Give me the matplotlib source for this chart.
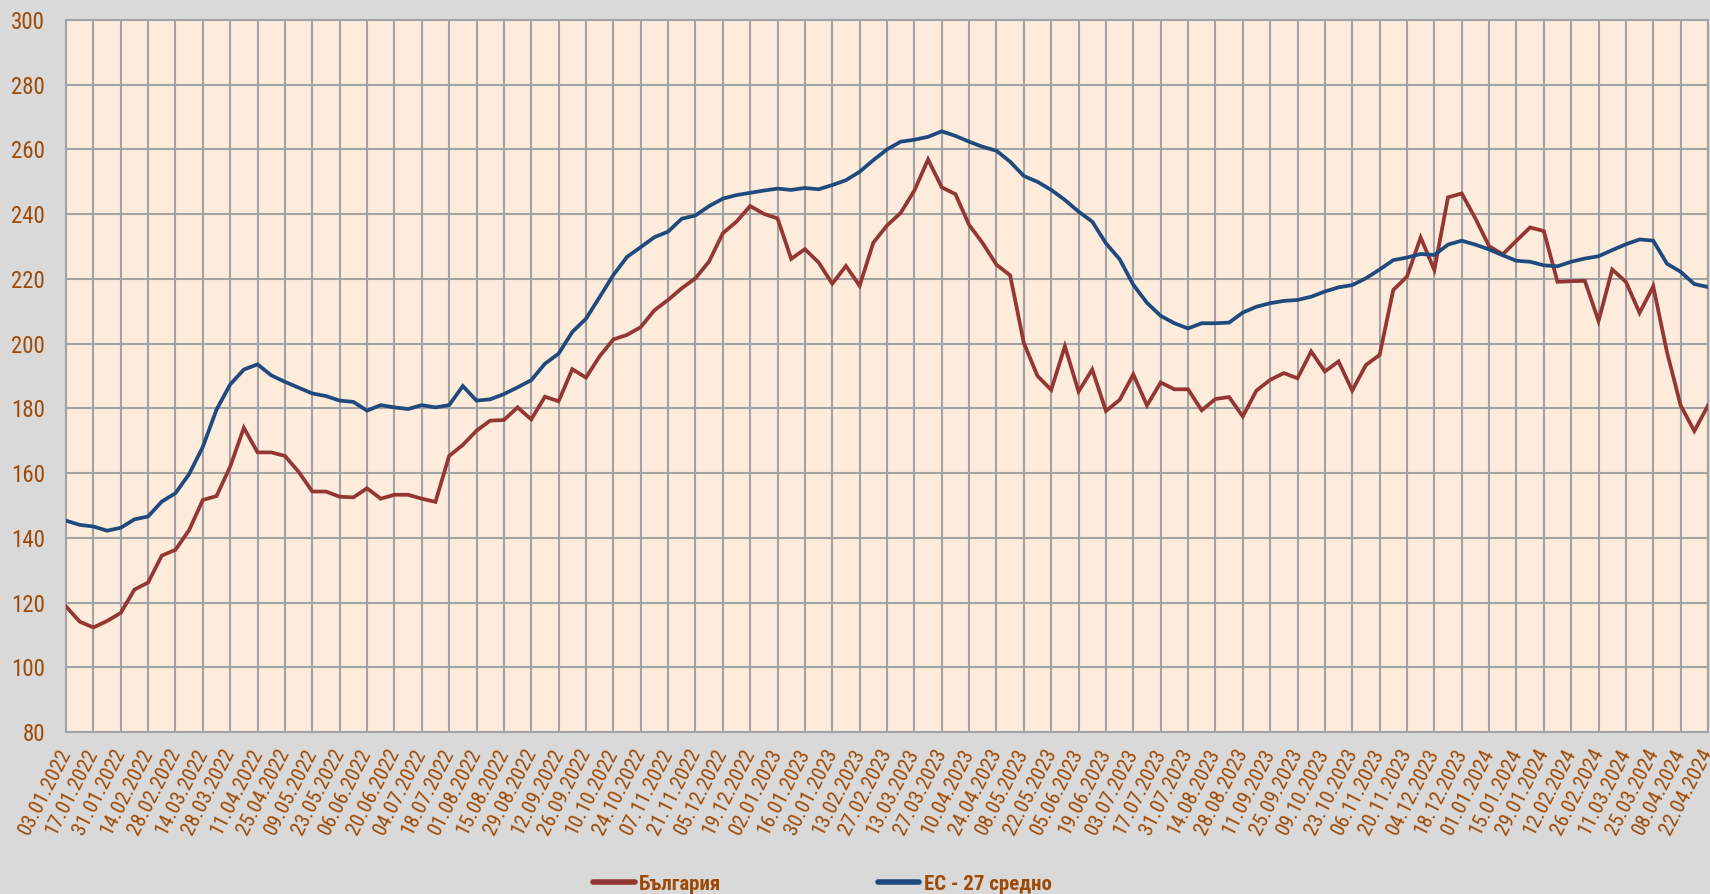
import matplotlib
matplotlib.use("Agg")
import matplotlib.pyplot as plt
from matplotlib import font_manager
import pandas as pd

# ==========================================================
# Данни (седмични, 03.01.2022 - 22.04.2024)
# ==========================================================
start_date = "2022-01-03"
n_weeks = 121

bulgaria = [
    118.8, 114.1, 112.3, 114.3, 116.8, 124.0, 126.2, 134.5, 136.3, 142.4,
    151.7, 152.9, 162.0, 174.0, 166.4, 166.4, 165.3, 160.4, 154.3, 154.3,
    152.7, 152.5, 155.3, 152.1, 153.3, 153.3, 152.1, 151.1, 165.3, 168.7,
    173.1, 176.2, 176.4, 180.3, 176.6, 183.6, 182.2, 192.1, 189.5, 196.1,
    201.3, 202.7, 205.1, 210.3, 213.5, 217.1, 220.2, 225.4, 234.1, 237.7,
    242.5, 240.1, 238.7, 226.2, 229.2, 225.1, 218.5, 224.0, 217.9, 231.2,
    236.5, 240.4, 247.3, 256.9, 248.3, 246.2, 236.7, 231.0, 224.4, 221.1,
    200.2, 190.0, 185.7, 199.2, 185.2, 192.0, 179.2, 182.6, 190.5, 180.9,
    188.0, 185.9, 185.9, 179.4, 182.9, 183.5, 177.5, 185.5, 188.8, 190.9,
    189.3, 197.6, 191.4, 194.5, 185.5, 193.4, 196.5, 216.6, 220.7, 232.8,
    222.8, 245.2, 246.4, 238.7, 230.1, 227.6, 231.8, 235.9, 234.8, 219.1,
    219.3, 219.4, 207.0, 222.9, 219.1, 209.5, 217.7, 197.4, 180.9, 173.0,
    180.9,
]

eu27 = [
    145.3, 144.0, 143.5, 142.2, 143.1, 145.7, 146.6, 151.2, 153.8, 159.7,
    168.1, 179.6, 187.4, 192.0, 193.6, 190.2, 188.2, 186.4, 184.6, 183.8,
    182.4, 182.0, 179.3, 181.0, 180.3, 179.8, 181.0, 180.3, 181.0, 186.9,
    182.4, 182.8, 184.4, 186.5, 188.7, 193.8, 196.9, 203.6, 207.7, 214.4,
    221.2, 226.8, 229.8, 232.9, 234.6, 238.6, 239.6, 242.5, 244.8, 245.9,
    246.6, 247.3, 247.9, 247.5, 248.1, 247.7, 249.0, 250.5, 253.1, 256.7,
    260.0, 262.4, 263.0, 263.9, 265.6, 264.2, 262.4, 260.8, 259.6, 256.2,
    251.8, 250.0, 247.5, 244.4, 240.8, 237.7, 231.0, 226.1, 218.2, 212.6,
    208.6, 206.3, 204.7, 206.3, 206.3, 206.5, 209.6, 211.4, 212.5, 213.2,
    213.5, 214.5, 216.1, 217.4, 218.1, 220.2, 222.9, 225.8, 226.6, 227.7,
    227.4, 230.6, 231.8, 230.6, 229.1, 227.3, 225.6, 225.3, 224.2, 223.9,
    225.3, 226.3, 227.0, 228.9, 230.7, 232.2, 231.8, 224.7, 222.2, 218.4,
    217.5,
]

y_ticks = [80, 100, 120, 140, 160, 180, 200, 220, 240, 260, 280, 300]

dates = pd.date_range(start_date, periods=n_weeks, freq="7D")
x = list(range(n_weeks))
x_ticks = x[::2]
x_labels = [d.strftime("%d.%m.%Y") for d in dates[::2]]

# ==========================================================
# Шрифт (тесен, ако има)
# ==========================================================
available = {f.name for f in font_manager.fontManager.ttflist}
narrow = None
for name in ["Liberation Sans Narrow", "Arial Narrow", "Roboto Condensed",
             "Open Sans Condensed", "DejaVu Sans Condensed"]:
    if name in available:
        narrow = name
        break

if narrow in ("Liberation Sans Narrow", "Arial Narrow"):
    font_name = narrow
    x_size, y_size, leg_size, col_sp = 16, 17, 16, 7.0
elif narrow is not None:
    font_name = narrow
    x_size, y_size, leg_size, col_sp = 15, 16.5, 15, 7.5
else:
    font_name = "Liberation Sans"
    x_size, y_size, leg_size, col_sp = 13.2, 14.5, 12, 9.0
plt.rcParams["font.family"] = [font_name, "DejaVu Sans"]

text_color = "#9E4A06"
grid_color = "#A3A3A3"

# ==========================================================
# Графика
# ==========================================================
fig = plt.figure(figsize=(17.1, 8.94), dpi=100)
fig.patch.set_facecolor("#D9D9D9")
ax = fig.add_axes([66 / 1710, 1 - 732 / 894, (1708 - 66) / 1710, (732 - 20) / 894])
ax.set_facecolor("#FDEBDC")

ax.plot(x, bulgaria, color="#943634", linewidth=2.7, label="България",
        solid_joinstyle="miter", zorder=3)
ax.plot(x, eu27, color="#1F4A7E", linewidth=2.7, label="ЕС - 27 средно",
        solid_joinstyle="miter", zorder=4)

ax.set_xlim(0, n_weeks - 1)
ax.set_ylim(80, 300)
ax.set_yticks(y_ticks)
ax.set_xticks(x_ticks)
ax.set_xticklabels(x_labels, rotation=63, ha="right", va="center",
                   rotation_mode="anchor")
ax.tick_params(axis="x", length=0, pad=13, labelsize=x_size, colors=text_color)
ax.tick_params(axis="y", length=0, pad=15, labelsize=y_size, colors=text_color)

ax.grid(True, color=grid_color, linewidth=1.5)
ax.set_axisbelow(True)
for side in ax.spines:
    ax.spines[side].set_color(grid_color)
    ax.spines[side].set_linewidth(1.5)

leg = fig.legend(loc="center", bbox_to_anchor=(0.481, 0.011), ncol=2,
                 frameon=False, handlelength=2.0, handletextpad=0.2,
                 columnspacing=col_sp, prop={"size": leg_size, "weight": "bold"})
for t in leg.get_texts():
    t.set_color(text_color)
for h in leg.get_lines():
    h.set_linewidth(4)
    h.set_solid_capstyle("round")

fig.savefig("out.png", dpi=100, facecolor=fig.get_facecolor())
